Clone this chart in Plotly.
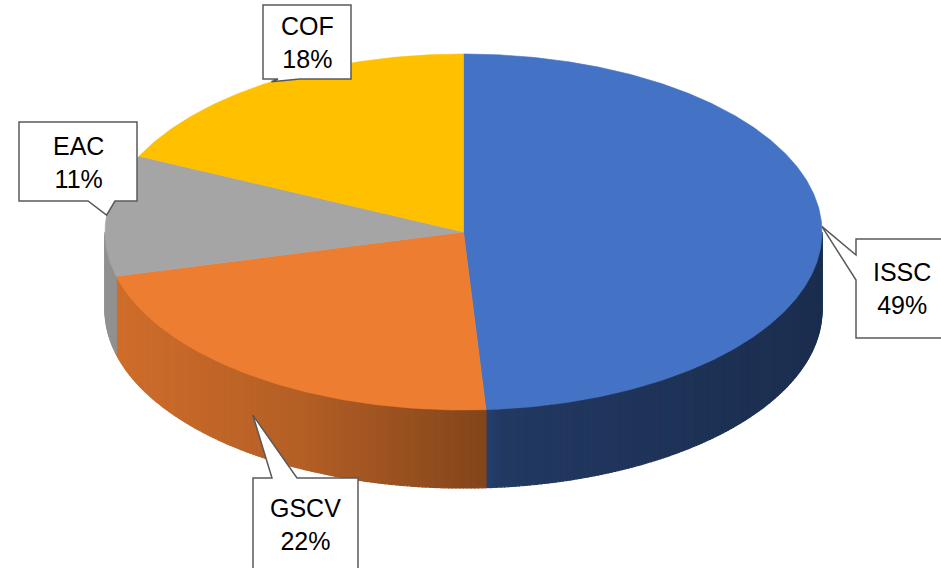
import numpy as np
import plotly.graph_objects as go

# ---- data ----
labels = ["ISSC", "GSCV", "EAC", "COF"]
values = [49, 22, 11, 18]
colors = ["#4472C4", "#ED7D31", "#A5A5A5", "#FFC000"]

# ---- geometry / style (layout, not data) ----
W, H = 941, 568
CX, CY, RX, RY, DEPTH = 463.5, 232.0, 358.5, 178.0, 78.0

# callout boxes: x0, x1, y0, y1, pointer side, base a, base b, text centre
callouts = {
    "COF":  dict(box=(263, 351, 5, 79), side="bottom", base=(278, 300), text=(307, 42)),
    "EAC":  dict(box=(19, 137, 122, 201), side="bottom", base=(88, 115), text=(78, 162)),
    "ISSC": dict(box=(856, 990, 239, 338), side="left", base=(255, 280), text=(902, 288)),
    "GSCV": dict(box=(253, 358, 478, 640), side="top", base=(272, 297), text=(305, 524)),
}


def pt(theta_deg, dy=0.0):
    t = np.radians(theta_deg)
    return CX + RX * np.sin(t), CY - RY * np.cos(t) + dy


def hex2rgb(h):
    h = h.lstrip("#")
    return tuple(int(h[i:i + 2], 16) for i in (0, 2, 4))


def shade(hexcol, f):
    r, g, b = hex2rgb(hexcol)
    return "rgb(%d,%d,%d)" % (round(r * f), round(g * f), round(b * f))


def light(x):
    return float(np.interp(x, [105, 300, 488, 500, 822], [0.88, 0.76, 0.55, 0.50, 0.40]))


total = float(sum(values))
starts, ends = [], []
acc = 0.0
for v in values:
    starts.append(acc / total * 360.0)
    acc += v
    ends.append(acc / total * 360.0)

fig = go.Figure()

# ---- side walls (front half: 90..270 deg clockwise from top) ----
for lab, col, a, b in zip(labels, colors, starts, ends):
    s, e = max(a, 90.0), min(b, 270.0)
    if e <= s:
        continue
    n = max(2, int(np.ceil((e - s) / 0.6)))
    edges = np.linspace(s, e, n + 1)
    for t0, t1 in zip(edges[:-1], edges[1:]):
        ts = np.linspace(t0, t1, 3)
        top = [pt(t) for t in ts]
        bot = [pt(t, DEPTH) for t in ts[::-1]]
        poly = top + bot
        xs = [p[0] for p in poly] + [poly[0][0]]
        ys = [p[1] for p in poly] + [poly[0][1]]
        c = shade(col, light(np.mean(xs)))
        fig.add_trace(go.Scatter(x=xs, y=ys, mode="lines", fill="toself",
                                 fillcolor=c, line=dict(color=c, width=1.2),
                                 hoverinfo="skip", showlegend=False))

# ---- top faces ----
for lab, col, a, b, v in zip(labels, colors, starts, ends, values):
    ts = np.linspace(a, b, max(8, int((b - a) * 2)))
    arc = [pt(t) for t in ts]
    xs = [CX] + [p[0] for p in arc] + [CX]
    ys = [CY] + [p[1] for p in arc] + [CY]
    fig.add_trace(go.Scatter(x=xs, y=ys, mode="lines", fill="toself",
                             fillcolor=col, line=dict(color=col, width=0.6),
                             name=lab, text="%s %d%%" % (lab, v),
                             hoverinfo="text", showlegend=False))

# ---- callouts ----
shapes, annotations = [], []
for lab, a, b, v in zip(labels, starts, ends, values):
    cfg = callouts[lab]
    mid = (a + b) / 2.0
    front = 90.0 < mid < 270.0
    tx, ty = pt(mid, DEPTH / 2.0 if front else 0.0)
    x0, x1, y0, y1 = cfg["box"]
    pa, pb = cfg["base"]
    if cfg["side"] == "bottom":
        path = (f"M{x0},{y0} L{x1},{y0} L{x1},{y1} L{pb},{y1} L{tx:.1f},{ty:.1f} "
                f"L{pa},{y1} L{x0},{y1} Z")
    elif cfg["side"] == "top":
        path = (f"M{x0},{y0} L{pa},{y0} L{tx:.1f},{ty:.1f} L{pb},{y0} L{x1},{y0} "
                f"L{x1},{y1} L{x0},{y1} Z")
    else:  # left
        path = (f"M{x0},{y0} L{x1},{y0} L{x1},{y1} L{x0},{y1} L{x0},{pb} "
                f"L{tx:.1f},{ty:.1f} L{x0},{pa} Z")
    shapes.append(dict(type="path", path=path, xref="x", yref="y",
                       fillcolor="white", line=dict(color="#595959", width=1.5),
                       layer="above"))
    annotations.append(dict(x=cfg["text"][0], y=cfg["text"][1], xref="x", yref="y",
                            text=f"{lab}<br>{v}%", showarrow=False,
                            font=dict(family="Liberation Sans, Arial, sans-serif",
                                      size=25, color="#000000"),
                            align="center", xanchor="center", yanchor="middle"))

fig.update_layout(
    width=W, height=H,
    margin=dict(l=0, r=0, t=0, b=0),
    paper_bgcolor="white", plot_bgcolor="white",
    xaxis=dict(range=[0, W], visible=False, fixedrange=True),
    yaxis=dict(range=[H, 0], visible=False, fixedrange=True),
    shapes=shapes, annotations=annotations,
    showlegend=False,
)

fig.write_html("out.html", config={"displayModeBar": False},
               post_script="document.body.style.margin='0px';document.body.style.overflow='hidden';")
